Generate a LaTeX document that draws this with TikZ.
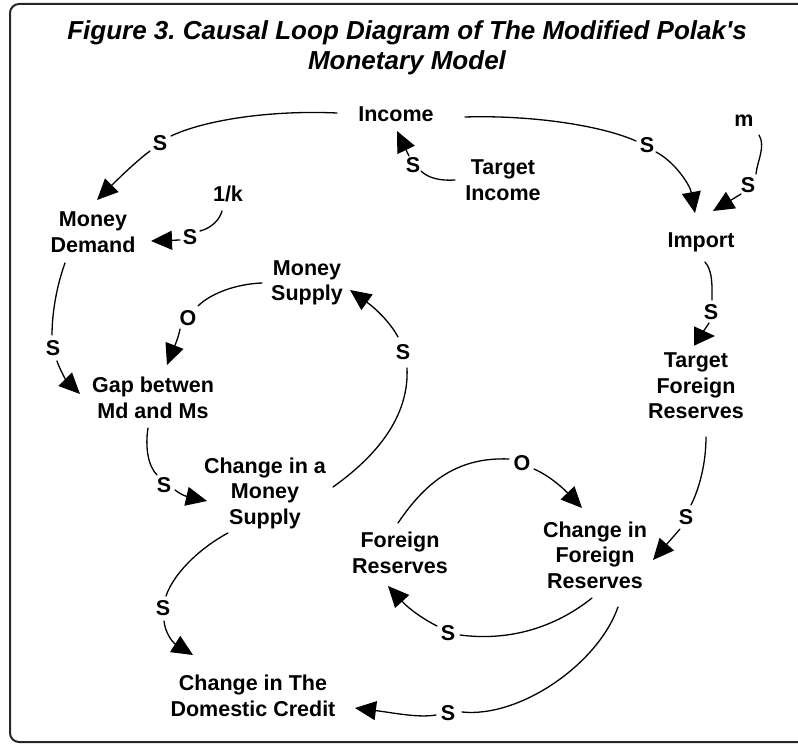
\documentclass[tikz,border=0pt]{standalone}
\usepackage{fontspec}
\newfontfamily\lab{Liberation Sans}[Ligatures=TeXOff]
\usetikzlibrary{arrows.meta,calc}
\frenchspacing
\tikzset{
  var/.style={font=\lab\bfseries\fontsize{21.5}{25.5}\selectfont, align=center, inner sep=0pt},
  pol/.style={font=\lab\bfseries\fontsize{21.5}{25.5}\selectfont, inner sep=0pt},
  ttl/.style={font=\lab\bfseries\itshape\fontsize{26}{30}\selectfont, inner sep=0pt, anchor=base},
  link/.style={line width=1.3pt, line cap=round},
  arr/.style={link, -{Triangle[length=21pt,width=19pt]}},
  frame/.style={line width=2pt, draw=black!85, rounded corners=9pt}
}
\begin{document}
\begin{tikzpicture}[x=1pt,y=-1pt]
\useasboundingbox (0,0) rectangle (798,746);
\begin{scope}
  \clip (0,0) rectangle (798,746);
  \draw[frame] (10,4) rectangle (830,742);
\end{scope}

% title
\node[ttl] (title1) at (407,40) {\frenchspacing Figure 3. Causal Loop Diagram of The Modified Polak's};
\node[ttl] (title2) at (407,70) {Monetary Model};

% variables
\node[var] (income) at (396,114) {Income};
\node[var] (tinc)   at (503,180) {Target\\Income};
\node[var] (m)      at (744,121) {m};
\node[var] (imp)    at (701,242) {Import};
\node[var] (tfr)    at (696,386) {Target\\Foreign\\Reserves};
\node[var] (md)     at (93,232)  {Money\\Demand};
\node[var] (k)      at (228,194) {1/k};
\node[var] (ms)     at (307,283) {Money\\Supply};
\node[var] (gap)    at (153,398) {Gap betwen\\Md and Ms};
\node[var] (cms)    at (265,493) {Change in a\\Money\\Supply};
\node[var] (cdc)    at (253,696) {Change in The\\Domestic Credit};
\node[var] (fr)     at (400,553) {Foreign\\Reserves};
\node[var] (cfr)    at (595,555) {Change in\\Foreign\\Reserves};

% polarity labels
\node[pol] (s1)  at (160,143) {S};
\node[pol] (s2)  at (190,237) {S};
\node[pol] (s3)  at (413,165) {S};
\node[pol] (s4)  at (647,145) {S};
\node[pol] (s5)  at (748,185) {S};
\node[pol] (s6)  at (711,312) {S};
\node[pol] (s7)  at (686,517) {S};
\node[pol] (s8)  at (448,633) {S};
\node[pol] (o9)  at (522,463) {O};
\node[pol] (s10) at (448,713) {S};
\node[pol] (s11) at (163,608) {S};
\node[pol] (s12) at (164,485) {S};
\node[pol] (s13) at (403,352) {S};
\node[pol] (o14) at (188,318) {O};
\node[pol] (s15) at (53,348)  {S};

% Income -> Money Demand
\draw[link] ($(income)+(-59,-1)$) .. controls (270,110) and (205,120) .. ($(s1)+(11,-7)$);
\draw[arr]  ($(s1)+(-10,8)$) .. controls (135,162) and (112,185) .. ($(md)+(4,-32)$);
% 1/k -> Money Demand
\draw[link] ($(k)+(-6,17)$) .. controls (220,219) and (212,228) .. ($(s2)+(10,-6)$);
\draw[arr]  ($(s2)+(-10,3)$) -- ($(md)+(58,9)$);
% Target Income -> Income
\draw[link] ($(tinc)+(-48,0)$) .. controls (440,181) and (428,178) .. ($(s3)+(8,6)$);
\draw[arr]  ($(s3)+(-4,-9)$) -- ($(income)+(1,17)$);
% Income -> Import
\draw[link] ($(income)+(69,3)$) .. controls (530,115) and (600,125) .. ($(s4)+(-11,-4)$);
\draw[arr]  ($(s4)+(9,7)$) .. controls (675,162) and (690,185) .. ($(imp)+(-6,-29)$);
% m -> Import
\draw[link] ($(m)+(15,14)$) .. controls (766,146) and (757,162) .. ($(s5)+(8,-11)$);
\draw[arr]  ($(s5)+(-7,9)$) -- ($(imp)+(12,-31)$);
% Import -> Target Foreign Reserves
\draw[link] ($(imp)+(4,20)$) .. controls (713,271) and (712,287) .. ($(s6)+(1,-12)$);
\draw[arr]  ($(s6)+(-2,11)$) .. controls (702,334) and (700,336) .. ($(tfr)+(19,-50)$);
% Target Foreign Reserves -> Change in Foreign Reserves
\draw[link] ($(tfr)+(10,51)$) .. controls (706,462) and (700,487) .. ($(s7)+(5,-12)$);
\draw[arr]  ($(s7)+(-6,12)$) -- ($(cfr)+(58,5)$);
% Change in Foreign Reserves -> Foreign Reserves
\draw[link] ($(cfr)+(-3,43)$) .. controls (552,630) and (505,641) .. ($(s8)+(12,2)$);
\draw[arr]  ($(s8)+(-11,-7)$) .. controls (425,620) and (410,610) .. ($(fr)+(-12,33)$);
% Foreign Reserves -> Change in Foreign Reserves
\draw[link] ($(fr)+(-2,-30)$) .. controls (427,480) and (459,457) .. ($(o9)+(-13,-4)$);
\draw[arr]  ($(o9)+(12,6)$) .. controls (546,474) and (560,485) .. ($(cfr)+(-13,-47)$);
% Change in Foreign Reserves -> Change in The Domestic Credit
\draw[link] ($(cfr)+(23,52)$) .. controls (598,664) and (520,718) .. ($(s10)+(14,-1)$);
\draw[arr]  ($(s10)+(-12,2)$) .. controls (418,718) and (395,713) .. ($(cdc)+(102,12)$);
% Change in a Money Supply -> Change in The Domestic Credit
\draw[link] ($(cms)+(-37,40)$) .. controls (205,545) and (175,570) .. ($(s11)+(3,-12)$);
\draw[arr]  ($(s11)+(1,13)$) .. controls (165,632) and (172,642) .. ($(cdc)+(-60,-41)$);
% Gap -> Change in a Money Supply
\draw[link] ($(gap)+(-5,30)$) .. controls (145,447) and (148,466) .. ($(s12)+(-7,-10)$);
\draw[arr]  ($(s12)+(11,5)$) .. controls (180,494) and (185,496) .. ($(cms)+(-58,8)$);
% Change in a Money Supply -> Money Supply
\draw[link] ($(cms)+(68,-6)$) .. controls (385,450) and (409,410) .. ($(s13)+(4,16)$);
\draw[arr]  ($(s13)+(-5,-15)$) .. controls (390,322) and (375,308) .. ($(ms)+(43,7)$);
% Money Supply -> Gap
\draw[link] ($(ms)+(-45,0)$) .. controls (235,284) and (210,294) .. ($(o14)+(10,-12)$);
\draw[arr]  ($(o14)+(-8,11)$) .. controls (178,340) and (172,352) .. ($(gap)+(14,-33)$);
% Money Demand -> Gap
\draw[link] ($(md)+(-28,31)$) .. controls (57,285) and (52,312) .. ($(s15)+(-1,-13)$);
\draw[arr]  ($(s15)+(4,13)$) .. controls (60,370) and (66,380) .. ($(gap)+(-73,-4)$);
\end{tikzpicture}
\end{document}
